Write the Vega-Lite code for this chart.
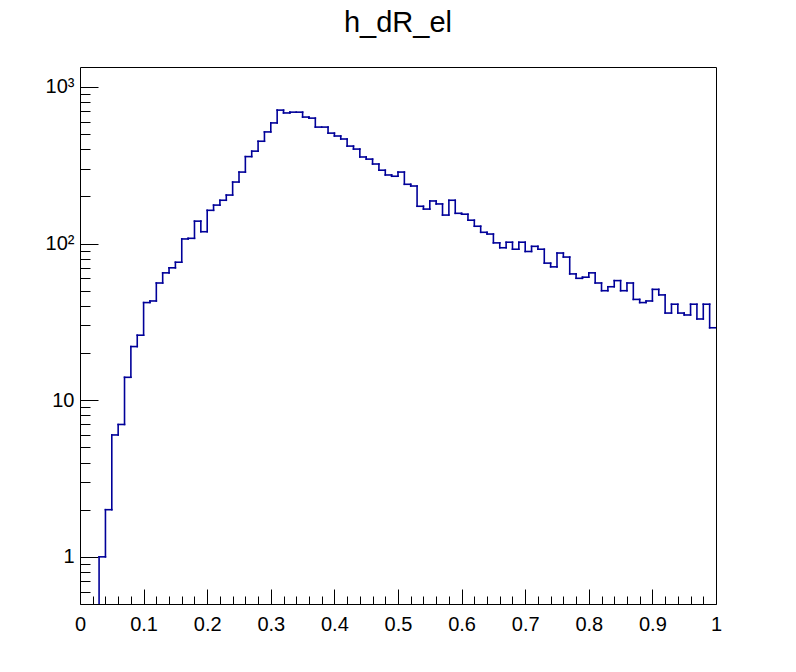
{
  "$schema": "https://vega.github.io/schema/vega-lite/v6.json",
  "width": 636,
  "height": 537,
  "autosize": {"type": "none"},
  "padding": {"left": 80, "top": 67, "right": 80, "bottom": 68},
  "background": "white",
  "config": {
    "view": {"stroke": "black", "strokeWidth": 1},
    "font": "Liberation Sans",
    "axis": {"labelFont": "Liberation Sans", "labelColor": "black", "tickColor": "black", "domain": false, "grid": false, "title": null}
  },
  "title": {"text": "h_dR_el", "fontSize": 29, "font": "Liberation Sans", "fontWeight": "normal", "anchor": "middle", "baseline": "alphabetic", "offset": 6, "color": "black"},
  "data": {"values": [
    {"lo": 0.00, "hi": 0.01, "count": 0}, {"lo": 0.01, "hi": 0.02, "count": 0}, {"lo": 0.02, "hi": 0.03, "count": 0},
    {"lo": 0.03, "hi": 0.04, "count": 1}, {"lo": 0.04, "hi": 0.05, "count": 2}, {"lo": 0.05, "hi": 0.06, "count": 6},
    {"lo": 0.06, "hi": 0.07, "count": 7}, {"lo": 0.07, "hi": 0.08, "count": 14}, {"lo": 0.08, "hi": 0.09, "count": 22},
    {"lo": 0.09, "hi": 0.10, "count": 26}, {"lo": 0.10, "hi": 0.11, "count": 42}, {"lo": 0.11, "hi": 0.12, "count": 43},
    {"lo": 0.12, "hi": 0.13, "count": 56}, {"lo": 0.13, "hi": 0.14, "count": 65}, {"lo": 0.14, "hi": 0.15, "count": 70},
    {"lo": 0.15, "hi": 0.16, "count": 76}, {"lo": 0.16, "hi": 0.17, "count": 107}, {"lo": 0.17, "hi": 0.18, "count": 108},
    {"lo": 0.18, "hi": 0.19, "count": 139}, {"lo": 0.19, "hi": 0.20, "count": 119}, {"lo": 0.20, "hi": 0.21, "count": 163},
    {"lo": 0.21, "hi": 0.22, "count": 176}, {"lo": 0.22, "hi": 0.23, "count": 189}, {"lo": 0.23, "hi": 0.24, "count": 204},
    {"lo": 0.24, "hi": 0.25, "count": 247}, {"lo": 0.25, "hi": 0.26, "count": 286}, {"lo": 0.26, "hi": 0.27, "count": 359},
    {"lo": 0.27, "hi": 0.28, "count": 389}, {"lo": 0.28, "hi": 0.29, "count": 450}, {"lo": 0.29, "hi": 0.30, "count": 516},
    {"lo": 0.30, "hi": 0.31, "count": 589}, {"lo": 0.31, "hi": 0.32, "count": 711}, {"lo": 0.32, "hi": 0.33, "count": 682},
    {"lo": 0.33, "hi": 0.34, "count": 690}, {"lo": 0.34, "hi": 0.35, "count": 690}, {"lo": 0.35, "hi": 0.36, "count": 642},
    {"lo": 0.36, "hi": 0.37, "count": 632}, {"lo": 0.37, "hi": 0.38, "count": 554}, {"lo": 0.38, "hi": 0.39, "count": 554},
    {"lo": 0.39, "hi": 0.40, "count": 507}, {"lo": 0.40, "hi": 0.41, "count": 486}, {"lo": 0.41, "hi": 0.42, "count": 465},
    {"lo": 0.42, "hi": 0.43, "count": 419}, {"lo": 0.43, "hi": 0.44, "count": 401}, {"lo": 0.44, "hi": 0.45, "count": 357},
    {"lo": 0.45, "hi": 0.46, "count": 346}, {"lo": 0.46, "hi": 0.47, "count": 322}, {"lo": 0.47, "hi": 0.48, "count": 294},
    {"lo": 0.48, "hi": 0.49, "count": 274}, {"lo": 0.49, "hi": 0.50, "count": 269}, {"lo": 0.50, "hi": 0.51, "count": 286},
    {"lo": 0.51, "hi": 0.52, "count": 239}, {"lo": 0.52, "hi": 0.53, "count": 233}, {"lo": 0.53, "hi": 0.54, "count": 173},
    {"lo": 0.54, "hi": 0.55, "count": 166}, {"lo": 0.55, "hi": 0.56, "count": 187}, {"lo": 0.56, "hi": 0.57, "count": 179},
    {"lo": 0.57, "hi": 0.58, "count": 152}, {"lo": 0.58, "hi": 0.59, "count": 189}, {"lo": 0.59, "hi": 0.60, "count": 156},
    {"lo": 0.60, "hi": 0.61, "count": 154}, {"lo": 0.61, "hi": 0.62, "count": 141}, {"lo": 0.62, "hi": 0.63, "count": 129},
    {"lo": 0.63, "hi": 0.64, "count": 118}, {"lo": 0.64, "hi": 0.65, "count": 115}, {"lo": 0.65, "hi": 0.66, "count": 101},
    {"lo": 0.66, "hi": 0.67, "count": 94}, {"lo": 0.67, "hi": 0.68, "count": 102}, {"lo": 0.68, "hi": 0.69, "count": 92},
    {"lo": 0.69, "hi": 0.70, "count": 102}, {"lo": 0.70, "hi": 0.71, "count": 89}, {"lo": 0.71, "hi": 0.72, "count": 96},
    {"lo": 0.72, "hi": 0.73, "count": 92}, {"lo": 0.73, "hi": 0.74, "count": 75}, {"lo": 0.74, "hi": 0.75, "count": 71},
    {"lo": 0.75, "hi": 0.76, "count": 87}, {"lo": 0.76, "hi": 0.77, "count": 82}, {"lo": 0.77, "hi": 0.78, "count": 64},
    {"lo": 0.78, "hi": 0.79, "count": 60}, {"lo": 0.79, "hi": 0.80, "count": 61}, {"lo": 0.80, "hi": 0.81, "count": 65},
    {"lo": 0.81, "hi": 0.82, "count": 56}, {"lo": 0.82, "hi": 0.83, "count": 50}, {"lo": 0.83, "hi": 0.84, "count": 53},
    {"lo": 0.84, "hi": 0.85, "count": 58}, {"lo": 0.85, "hi": 0.86, "count": 50}, {"lo": 0.86, "hi": 0.87, "count": 56},
    {"lo": 0.87, "hi": 0.88, "count": 44}, {"lo": 0.88, "hi": 0.89, "count": 42}, {"lo": 0.89, "hi": 0.90, "count": 43},
    {"lo": 0.90, "hi": 0.91, "count": 51}, {"lo": 0.91, "hi": 0.92, "count": 47}, {"lo": 0.92, "hi": 0.93, "count": 36},
    {"lo": 0.93, "hi": 0.94, "count": 41}, {"lo": 0.94, "hi": 0.95, "count": 36}, {"lo": 0.95, "hi": 0.96, "count": 35},
    {"lo": 0.96, "hi": 0.97, "count": 41}, {"lo": 0.97, "hi": 0.98, "count": 33}, {"lo": 0.98, "hi": 0.99, "count": 41},
    {"lo": 0.99, "hi": 1.00, "count": 29}
  ]},
  "encoding": {
    "x": {
      "field": "lo", "type": "quantitative",
      "scale": {"domain": [0, 1], "nice": false, "zero": false},
      "axis": {
        "orient": "bottom",
        "values": [0,0.02,0.04,0.06,0.08,0.1,0.12,0.14,0.16,0.18,0.2,0.22,0.24,0.26,0.28,0.3,0.32,0.34,0.36,0.38,0.4,0.42,0.44,0.46,0.48,0.5,0.52,0.54,0.56,0.58,0.6,0.62,0.64,0.66,0.68,0.7,0.72,0.74,0.76,0.78,0.8,0.82,0.84,0.86,0.88,0.9,0.92,0.94,0.96,0.98,1],
        "tickSize": {"condition": {"test": "round(datum.value*50) % 5 == 0", "value": -15}, "value": -8},
        "labelExpr": "round(datum.value*50) % 5 == 0 ? datum.label : ''",
        "format": "~g",
        "labelFontSize": 20,
        "labelPadding": 25,
        "labelFlush": false,
        "labelOverlap": false
      }
    },
    "y": {
      "field": "count", "type": "quantitative",
      "scale": {"type": "log", "domain": [0.5, 1340], "nice": false, "clamp": true},
      "axis": {
        "orient": "left",
        "values": [0.6,0.7,0.8,0.9,1,2,3,4,5,6,7,8,9,10,20,30,40,50,60,70,80,90,100,200,300,400,500,600,700,800,900,1000],
        "tickSize": {"condition": {"test": "indexof([1,10,100,1000], datum.value) >= 0", "value": -18}, "value": -10},
        "labelExpr": "datum.value == 1 ? '1' : datum.value == 10 ? '10' : datum.value == 100 ? '10²' : datum.value == 1000 ? '10³' : ''",
        "labelFontSize": 20,
        "labelPadding": 24,
        "labelFlush": false,
        "labelOverlap": false
      }
    }
  },
  "layer": [
    {
      "transform": [{"filter": "datum.count > 0"}],
      "mark": {"type": "rule", "color": "#000099", "strokeWidth": 1.6, "strokeCap": "square", "clip": true},
      "encoding": {"x2": {"field": "hi"}}
    },
    {
      "transform": [
        {"window": [{"op": "lag", "field": "count", "as": "prev"}], "sort": [{"field": "lo"}]},
        {"filter": "datum.prev != null && datum.prev != datum.count"}
      ],
      "mark": {"type": "rule", "color": "#000099", "strokeWidth": 1.6, "strokeCap": "square", "clip": true, "invalid": null},
      "encoding": {"y2": {"field": "prev"}}
    }
  ]
}
